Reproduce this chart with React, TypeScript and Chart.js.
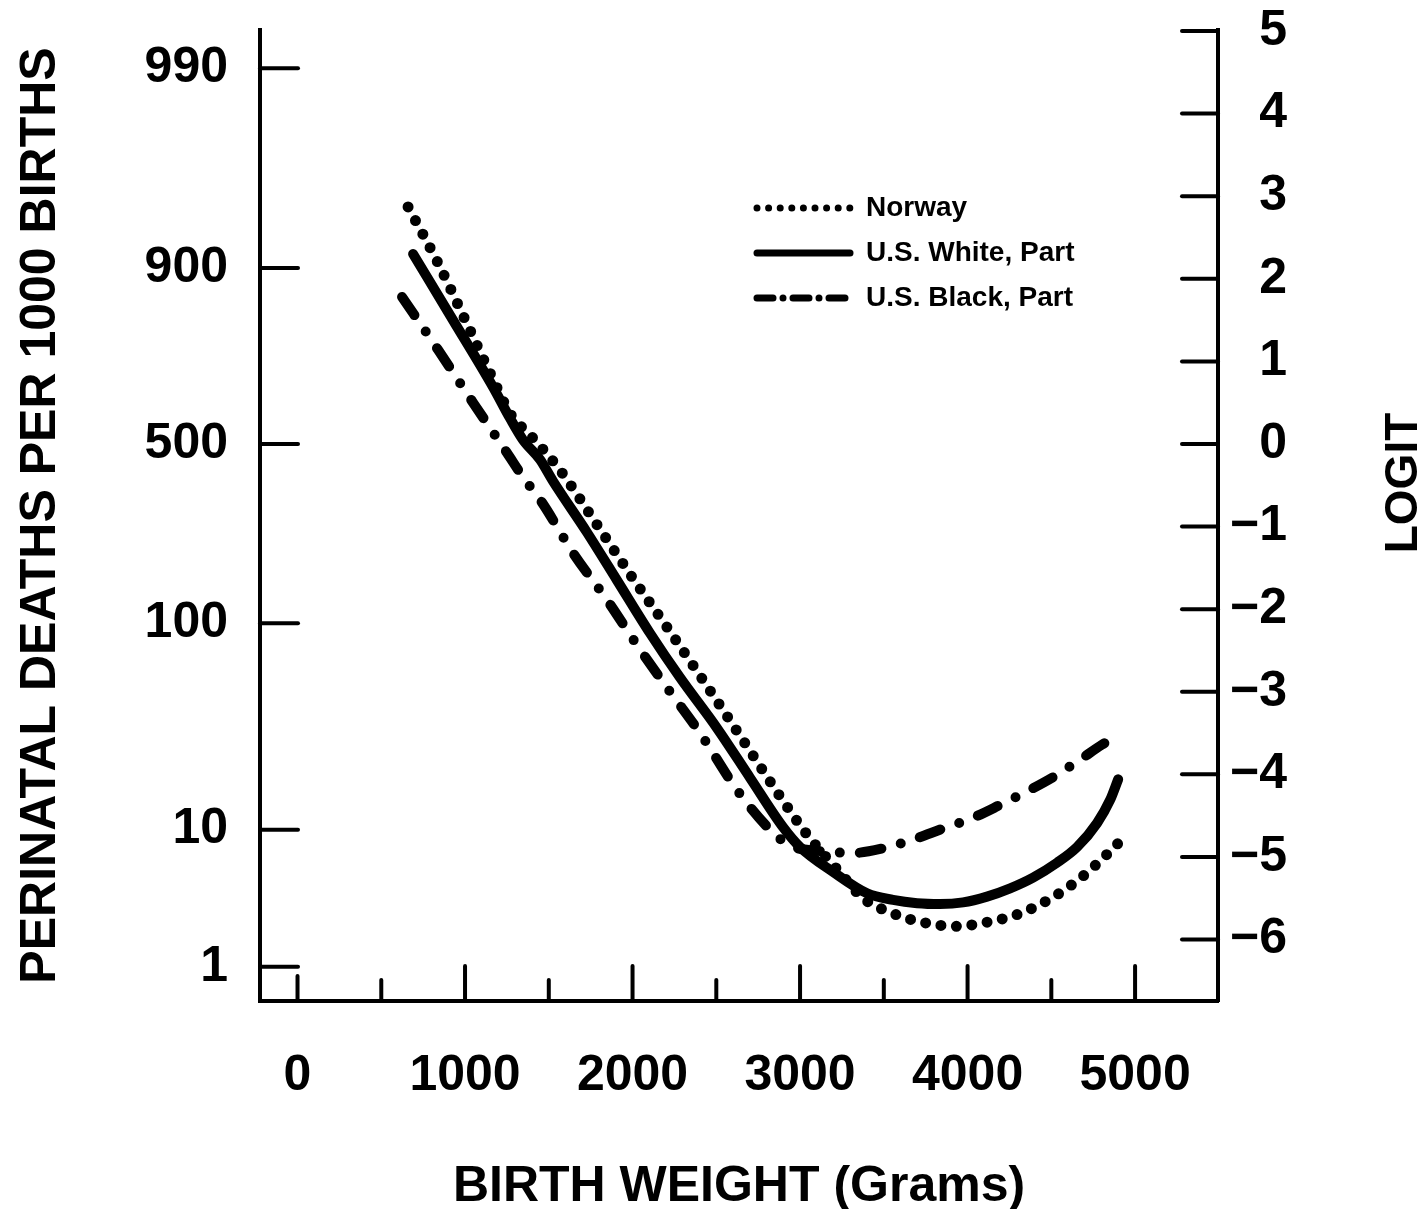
import React, { useEffect, useRef } from 'react';
import { Chart, registerables } from 'chart.js';

Chart.register(...registerables);

// Birth weight (grams) and logit of perinatal mortality for each curve
const norwayWeight = [660, 839, 1006, 1161, 1275, 1388, 1561, 1782, 2003, 2206, 2421, 2654, 2875, 3042, 3239, 3376, 3549, 3728, 3925, 4116, 4319, 4516, 4684, 4857, 4934];
const norwayLogit = [2.87, 2.19, 1.48, 0.81, 0.35, 0.11, -0.3, -0.96, -1.63, -2.22, -2.86, -3.57, -4.25, -4.73, -5.19, -5.5, -5.68, -5.79, -5.84, -5.79, -5.68, -5.48, -5.24, -4.92, -4.76];

const whiteWeight = [690, 928, 1167, 1269, 1346, 1448, 1525, 1728, 1907, 2104, 2284, 2504, 2701, 2899, 3000, 3197, 3400, 3555, 3699, 3836, 3973, 4116, 4254, 4391, 4534, 4654, 4773, 4851, 4899];
const whiteLogit = [2.3, 1.5, 0.69, 0.31, 0.05, -0.19, -0.45, -1.07, -1.65, -2.29, -2.83, -3.44, -4.04, -4.64, -4.88, -5.18, -5.44, -5.52, -5.56, -5.57, -5.55, -5.48, -5.38, -5.25, -5.07, -4.88, -4.59, -4.31, -4.06];

const blackWeight = [624, 839, 1048, 1251, 1346, 1460, 1645, 1848, 2045, 2224, 2403, 2624, 2821, 2940, 3119, 3328, 3507, 3675, 3848, 4027, 4194, 4361, 4522, 4666, 4803, 4881];
const blackLogit = [1.78, 1.14, 0.5, -0.11, -0.4, -0.71, -1.32, -1.89, -2.49, -3.0, -3.5, -4.19, -4.67, -4.86, -4.93, -4.95, -4.89, -4.79, -4.66, -4.53, -4.37, -4.2, -4.02, -3.83, -3.64, -3.55];

const seriesNames = ['Norway', 'U.S. White, Part', 'U.S. Black, Part'];

// Axes
const leftTickLabels = ['990', '900', '500', '100', '10', '1'];
const leftTickLogit = [4.55, 2.13, 0, -2.17, -4.67, -6.33];
const rightTickValues = [5, 4, 3, 2, 1, 0, -1, -2, -3, -4, -5, -6];
const xTickValues = [0, 500, 1000, 1500, 2000, 2500, 3000, 3500, 4000, 4500, 5000];
const xLabelValues = [0, 1000, 2000, 3000, 4000, 5000];

const X_MIN = -224;
const X_MAX = 5495;
const Y_MIN = -6.744;
const Y_MAX = 5.012;

const W = 1427;
const H = 1209;
const AREA_LEFT = 260;
const AREA_RIGHT = 1218;
const AREA_TOP = 30;
const AREA_BOTTOM = 1001;
const RIGHT_LABEL_EDGE = 1287;

const SANS = "'Liberation Sans', Arial, Helvetica, sans-serif";
const NUM_FONT = { family: SANS, size: 50, weight: 'bold' as const };
const TITLE_FONT = { family: SANS, size: 50, weight: 'bold' as const };

const DOT_DASH = [0, 15.5];
const DASH_DOT = [22, 20, 0, 20];

const toPoints = (xs: number[], ys: number[]) => xs.map((x, i) => ({ x, y: ys[i] }));

const noPad = (s: any) => {
  s.paddingTop = 0;
  s.paddingBottom = 0;
  s.paddingLeft = 0;
  s.paddingRight = 0;
};

const decorPlugin = {
  id: 'decor',
  afterDraw(chart: any) {
    const { ctx, chartArea, scales } = chart;
    const xs = scales.x;
    const ys = scales.y;
    ctx.save();
    ctx.strokeStyle = '#000';
    ctx.fillStyle = '#000';
    ctx.lineWidth = 4;
    ctx.lineCap = 'round';
    const seg = (x1: number, y1: number, x2: number, y2: number) => {
      ctx.beginPath();
      ctx.moveTo(x1, y1);
      ctx.lineTo(x2, y2);
      ctx.stroke();
    };
    leftTickLogit.forEach((v) => {
      const py = ys.getPixelForValue(v);
      seg(chartArea.left, py, chartArea.left + 38, py);
    });
    rightTickValues.forEach((v) => {
      const py = ys.getPixelForValue(v);
      seg(chartArea.right - 36, py, chartArea.right, py);
    });
    xTickValues.forEach((v) => {
      const px = xs.getPixelForValue(v);
      const len = v === 0 ? 25 : v % 1000 === 0 ? 35 : 21;
      seg(px, chartArea.bottom, px, chartArea.bottom - len);
    });

    // Right axis title, reading bottom to top
    ctx.save();
    ctx.translate(1404, 483);
    ctx.rotate(-Math.PI / 2);
    ctx.font = `bold 46px ${SANS}`;
    ctx.textAlign = 'center';
    ctx.textBaseline = 'middle';
    ctx.fillText('LOGIT', 0, 0);
    ctx.restore();

    // Legend
    const rows = [208, 253, 298];
    const x0 = 757;
    const x1 = 850;
    ctx.lineCap = 'round';
    rows.forEach((ry, i) => {
      ctx.beginPath();
      ctx.lineWidth = 7;
      if (i === 0) ctx.setLineDash([0, 11.6]);
      else if (i === 1) ctx.setLineDash([]);
      else ctx.setLineDash([16, 10, 0, 10]);
      ctx.moveTo(x0, ry);
      ctx.lineTo(x1, ry);
      ctx.stroke();
      ctx.setLineDash([]);
      ctx.font = `bold 28px ${SANS}`;
      ctx.textAlign = 'left';
      ctx.textBaseline = 'middle';
      ctx.fillText(seriesNames[i], 866, ry);
    });
    ctx.restore();
  },
};

export default function App() {
  const canvasRef = useRef<HTMLCanvasElement | null>(null);

  useEffect(() => {
    const canvas = canvasRef.current;
    if (!canvas) return;
    const chart = new Chart(canvas, {
      type: 'line',
      data: {
        datasets: [
          {
            label: seriesNames[0],
            data: toPoints(norwayWeight, norwayLogit),
            borderColor: '#000',
            borderWidth: 11,
            borderDash: DOT_DASH,
            borderCapStyle: 'round',
            borderJoinStyle: 'round',
            pointRadius: 0,
            fill: false,
            cubicInterpolationMode: 'monotone',
          },
          {
            label: seriesNames[1],
            data: toPoints(whiteWeight, whiteLogit),
            borderColor: '#000',
            borderWidth: 10,
            borderCapStyle: 'round',
            borderJoinStyle: 'round',
            pointRadius: 0,
            fill: false,
            cubicInterpolationMode: 'monotone',
          },
          {
            label: seriesNames[2],
            data: toPoints(blackWeight, blackLogit),
            borderColor: '#000',
            borderWidth: 10,
            borderDash: DASH_DOT,
            borderCapStyle: 'round',
            borderJoinStyle: 'round',
            pointRadius: 0,
            fill: false,
            cubicInterpolationMode: 'monotone',
          },
        ],
      },
      options: {
        animation: false,
        responsive: false,
        devicePixelRatio: 1,
        layout: { padding: { top: AREA_TOP, left: 0, right: W - RIGHT_LABEL_EDGE, bottom: 0 } },
        plugins: {
          legend: { display: false },
          tooltip: { enabled: false },
        },
        scales: {
          x: {
            type: 'linear',
            position: 'bottom',
            min: X_MIN,
            max: X_MAX,
            afterBuildTicks: (s: any) => {
              s.ticks = xLabelValues.map((v) => ({ value: v }));
            },
            afterFit: (s: any) => {
              s.height = H - AREA_BOTTOM;
              noPad(s);
            },
            grid: { display: false },
            border: { display: true, color: '#000', width: 4 },
            ticks: {
              color: '#000',
              font: NUM_FONT,
              padding: 37,
              maxRotation: 0,
              autoSkip: false,
              callback: (v: any) => String(v),
            },
            title: {
              display: true,
              text: 'BIRTH WEIGHT (Grams)',
              color: '#000',
              font: { ...TITLE_FONT, lineHeight: 0.8 },
              padding: { top: 0, bottom: 2 },
            },
          },
          y: {
            type: 'linear',
            position: 'left',
            min: Y_MIN,
            max: Y_MAX,
            afterBuildTicks: (s: any) => {
              s.ticks = leftTickLogit.map((v) => ({ value: v }));
            },
            afterFit: (s: any) => {
              s.width = AREA_LEFT;
              noPad(s);
            },
            grid: { display: false },
            border: { display: true, color: '#000', width: 4 },
            ticks: {
              color: '#000',
              font: NUM_FONT,
              padding: 24,
              autoSkip: false,
              callback: (_v: any, i: number) => leftTickLabels[i],
            },
            title: {
              display: true,
              text: 'PERINATAL DEATHS PER 1000 BIRTHS',
              color: '#000',
              font: { ...TITLE_FONT, lineHeight: 1.2 },
              padding: { top: 11, bottom: 0 },
            },
          },
          yR: {
            type: 'linear',
            position: 'right',
            min: Y_MIN,
            max: Y_MAX,
            afterBuildTicks: (s: any) => {
              s.ticks = rightTickValues.map((v) => ({ value: v }));
            },
            afterFit: (s: any) => {
              s.width = RIGHT_LABEL_EDGE - AREA_RIGHT;
              noPad(s);
            },
            grid: { display: false },
            border: { display: true, color: '#000', width: 4 },
            ticks: {
              color: '#000',
              font: NUM_FONT,
              padding: 10,
              crossAlign: 'far',
              autoSkip: false,
              callback: (v: any) => (v < 0 ? '\u2212' + Math.abs(v) : String(v)),
            },
          },
        },
      },
      plugins: [decorPlugin],
    } as any);
    return () => chart.destroy();
  }, []);

  return (
    <div style={{ position: 'absolute', left: 0, top: 0, width: W, height: H, background: '#fff' }}>
      <canvas ref={canvasRef} width={W} height={H} style={{ width: W, height: H, display: 'block' }} />
    </div>
  );
}
